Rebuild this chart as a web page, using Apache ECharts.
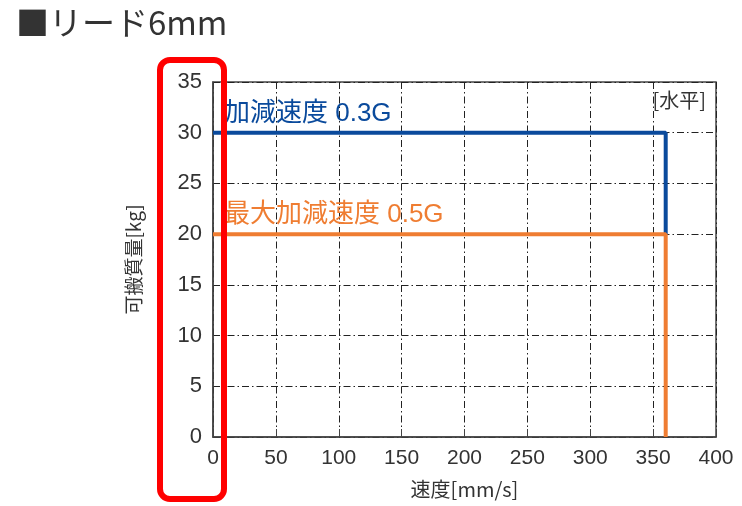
<!DOCTYPE html>
<html><head><meta charset="utf-8">
<script src="https://cdn.jsdelivr.net/npm/echarts@6/dist/echarts.min.js"></script>
<style>html,body{margin:0;padding:0;background:#fff}#c{width:742px;height:506px}</style>
</head><body><div id="c"></div>
<script>
const title = '■リード6mm';
const xTicks = [0, 50, 100, 150, 200, 250, 300, 350, 400];
const yTicks = [0, 5, 10, 15, 20, 25, 30, 35];
const series03 = [[0, 30], [360, 30], [360, 20]];
const series05 = [[0, 20], [360, 20], [360, 0]];
const label03 = '加減速度 0.3G';
const label05 = '最大加減速度 0.5G';
const noteLabel = '[水平]';
const xName = '速度[mm/s]';
const yName = '可搬質量[kg]';

const FONT = '"Liberation Sans", "Noto Sans CJK JP", sans-serif';
const JP = '"Noto Sans CJK JP", "Liberation Sans", sans-serif';
const LBL = '"Liberation Sans", "Noto Sans CJK JP", sans-serif';
const dashDot = [7, 3, 1.5, 3];
const chart = echarts.init(document.getElementById('c'));
const opt = {
  animation: false,
  backgroundColor: '#fff',
  grid: {left: 213, right: 26, top: 82, bottom: 69, show: true, borderColor: '#444', borderWidth: 1.5, backgroundColor: 'transparent'},
  xAxis: {
    type: 'value', min: xTicks[0], max: xTicks[xTicks.length - 1], interval: 50,
    name: xName, nameLocation: 'middle', nameGap: 42,
    nameTextStyle: {fontFamily: JP, fontSize: 20, color: '#333'},
    axisLine: {lineStyle: {color: '#444', width: 1.5}},
    axisTick: {inside: true, length: 8, lineStyle: {color: '#444'}},
    axisLabel: {fontFamily: FONT, fontSize: 21, color: '#333', margin: 11},
    splitLine: {show: true, lineStyle: {color: '#222', width: 1, type: dashDot}}
  },
  yAxis: {
    type: 'value', min: yTicks[0], max: yTicks[yTicks.length - 1], interval: 5,
    name: yName, nameLocation: 'middle', nameGap: 70, nameRotate: 90,
    nameTextStyle: {fontFamily: JP, fontSize: 19, color: '#333'},
    axisLine: {lineStyle: {color: '#444', width: 1.5}},
    axisTick: {show: false},
    axisLabel: {fontFamily: FONT, fontSize: 22, color: '#333', margin: 11},
    splitLine: {show: true, lineStyle: {color: '#222', width: 1, type: dashDot}}
  },
  series: [
    {type: 'line', data: series03, showSymbol: false, lineStyle: {color: '#0a4a9c', width: 4}, z: 3},
    {type: 'line', data: series05, showSymbol: false, lineStyle: {color: '#ef7d32', width: 4}, z: 4}
  ]
};
chart.setOption(opt);
const p03 = chart.convertToPixel({gridIndex: 0}, series03[0]);
const p05 = chart.convertToPixel({gridIndex: 0}, series05[0]);
const pNote = chart.convertToPixel({gridIndex: 0}, [400, 35]);
chart.setOption({
  graphic: [
    {type: 'text', left: 16, top: 6, style: {text: title, font: '33px ' + JP, fill: '#333'}},
    {type: 'text', x: p03[0] + 11, y: p03[1] - 6, style: {text: label03, font: '26px ' + LBL, fill: '#0a4a9c', textVerticalAlign: 'bottom'}},
    {type: 'text', x: p05[0] + 11, y: p05[1] - 6, style: {text: label05, font: '26px ' + LBL, fill: '#ef7d32', textVerticalAlign: 'bottom'}},
    {type: 'text', x: pNote[0] - 10, y: pNote[1] + 8, style: {text: noteLabel, font: '20px ' + JP, fill: '#333', textAlign: 'right'}},
    {type: 'rect', shape: {x: 160, y: 60, width: 64, height: 439, r: 10}, style: {fill: 'none', stroke: '#ff0000', lineWidth: 6}, z: 100}
  ]
});
</script></body></html>
